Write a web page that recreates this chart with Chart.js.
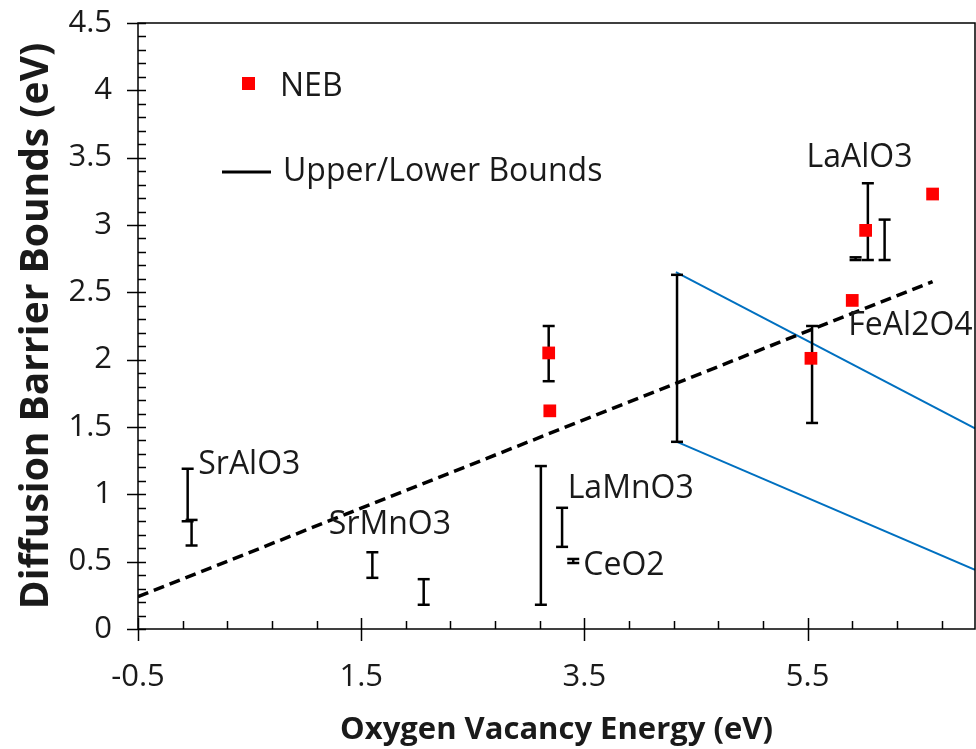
<!DOCTYPE html>
<html>
<head>
<meta charset="utf-8">
<script src="https://cdn.jsdelivr.net/npm/chart.js@4.4.0/dist/chart.umd.min.js"></script>
<style>
  html, body { margin: 0; padding: 0; background: #fff; }
  #wrap { width: 976px; height: 749px; }
</style>
</head>
<body>
<div id="wrap"><canvas id="grafico" width="976" height="749"></canvas></div>
<script>
// NEB points
const nebX = [3.18, 3.19, 5.53, 5.90, 6.02, 6.62];
const nebY = [2.05, 1.62, 2.01, 2.44, 2.96, 3.23];

// upper / lower bound bars
const boundX = [-0.055, -0.02, 1.60, 2.06, 3.11, 3.18, 3.30, 3.40, 4.33, 5.54, 5.93, 6.04, 6.19];
const boundLow = [0.80, 0.62, 0.38, 0.18, 0.18, 1.84, 0.61, 0.49, 1.39, 1.53, 2.74, 2.74, 2.74];
const boundHigh = [1.19, 0.81, 0.57, 0.37, 1.21, 2.25, 0.90, 0.52, 2.63, 2.25, 2.76, 3.31, 3.04];

// dashed trend line
const trendX = [-0.5, 6.62];
const trendY = [0.24, 2.58];

// blue guide lines
const guideUpperX = [4.32, 7.0];
const guideUpperY = [2.65, 1.49];
const guideLowerX = [4.33, 7.0];
const guideLowerY = [1.39, 0.44];

// material labels
const labelNames = ["SrAlO3", "SrMnO3", "LaMnO3", "CeO2", "FeAl2O4", "LaAlO3"];
const labelX = [0.04, 1.21, 3.35, 3.49, 5.865, 5.49];
const labelY = [1.22, 0.77, 1.04, 0.47, 2.25, 3.50];

// axes
const xTicks = [-0.5, 1.5, 3.5, 5.5];
const xTickLabels = ["-0.5", "1.5", "3.5", "5.5"];
const yTickLabels = ["0", "0.5", "1", "1.5", "2", "2.5", "3", "3.5", "4", "4.5"];

const FONT = "'Open Sans', 'Liberation Sans', sans-serif";
const TEXT = "#1a1a1a";

const pares = (xs, ys) => xs.map((x, i) => ({ x: x, y: ys[i] }));

const datasets = [
  {
    label: "NEB",
    data: pares(nebX, nebY),
    showLine: false,
    pointStyle: "rect",
    pointRadius: 9,
    pointBackgroundColor: "#ff0000",
    pointBorderColor: "#ff0000",
    pointBorderWidth: 0,
  },
];

boundX.forEach((x, i) => {
  datasets.push({
    label: "Upper/Lower Bounds",
    data: [{ x: x, y: boundLow[i] }, { x: x, y: boundHigh[i] }],
    showLine: true,
    borderColor: "#000",
    borderWidth: 2.5,
    pointStyle: "line",
    pointRadius: 6,
    pointBorderColor: "#000",
    pointBorderWidth: 2.5,
  });
});

datasets.push({
  label: "trend",
  data: pares(trendX, trendY),
  showLine: true,
  borderColor: "#000",
  borderWidth: 3.5,
  borderDash: [11, 6],
  pointRadius: 0,
});
datasets.push({
  label: "guideUpper",
  data: pares(guideUpperX, guideUpperY),
  showLine: true,
  borderColor: "#0070c0",
  borderWidth: 2,
  pointRadius: 0,
});
datasets.push({
  label: "guideLower",
  data: pares(guideLowerX, guideLowerY),
  showLine: true,
  borderColor: "#0070c0",
  borderWidth: 2,
  pointRadius: 0,
});

// draws the frame, tick marks, labels and legend
const decoracao = {
  id: "decoracao",
  afterDraw(chart) {
    const ctx = chart.ctx;
    const a = chart.chartArea;
    const sx = chart.scales.x;
    const sy = chart.scales.y;
    ctx.save();

    // frame
    ctx.strokeStyle = "#000";
    ctx.lineWidth = 1.5;
    ctx.strokeRect(a.left, a.top, a.right - a.left, a.bottom - a.top);

    // x minor / major ticks
    ctx.beginPath();
    for (let k = 0; k <= 18; k++) {
      const v = -0.5 + k * 0.4;
      if (v > 7.0001) break;
      const px = Math.round(sx.getPixelForValue(v)) + 0.5;
      ctx.moveTo(px, a.bottom - 8);
      ctx.lineTo(px, a.bottom);
    }
    xTicks.forEach((v) => {
      const px = Math.round(sx.getPixelForValue(v)) + 0.5;
      ctx.moveTo(px, a.bottom - 11);
      ctx.lineTo(px, a.bottom + 12);
    });
    // y minor / major ticks
    for (let k = 0; k <= 45; k++) {
      const py = Math.round(sy.getPixelForValue(k / 10)) + 0.5;
      ctx.moveTo(a.left, py);
      ctx.lineTo(a.left + 8, py);
    }
    for (let k = 0; k <= 9; k++) {
      const py = Math.round(sy.getPixelForValue(k / 2)) + 0.5;
      ctx.moveTo(a.left - 11, py);
      ctx.lineTo(a.left, py);
    }
    ctx.stroke();

    // material labels
    ctx.fillStyle = TEXT;
    ctx.font = "32px " + FONT;
    ctx.textAlign = "left";
    ctx.textBaseline = "middle";
    labelNames.forEach((nome, i) => {
      ctx.fillText(nome, sx.getPixelForValue(labelX[i]), sy.getPixelForValue(labelY[i]));
    });

    // legend
    ctx.fillStyle = "#ff0000";
    ctx.fillRect(242, 77, 13, 13);
    ctx.fillStyle = TEXT;
    ctx.fillText("NEB", 280, 87);
    ctx.strokeStyle = "#000";
    ctx.lineWidth = 3;
    ctx.beginPath();
    ctx.moveTo(222, 172);
    ctx.lineTo(271, 172);
    ctx.stroke();
    ctx.fillText("Upper/Lower Bounds", 283, 172);

    ctx.restore();
  },
};

new Chart(document.getElementById("grafico").getContext("2d"), {
  type: "scatter",
  data: { datasets: datasets },
  options: {
    responsive: false,
    animation: false,
    layout: { autoPadding: false, padding: { top: 23, right: 1, left: 0, bottom: 0 } },
    plugins: {
      legend: { display: false },
      tooltip: { enabled: false },
    },
    scales: {
      x: {
        type: "linear",
        min: -0.5,
        max: 7.0,
        afterBuildTicks: (s) => {
          s.ticks = xTicks.map((v) => ({ value: v }));
        },
        afterFit: (s) => {
          s.height = 120;
          s.paddingLeft = 0;
          s.paddingRight = 0;
        },
        grid: { display: false, drawTicks: false },
        border: { display: false },
        ticks: {
          padding: 30,
          color: TEXT,
          font: { family: FONT, size: 31 },
          maxRotation: 0,
          autoSkip: false,
          callback: (v) => xTickLabels[xTicks.indexOf(v)],
        },
        title: {
          display: true,
          text: "Oxygen Vacancy Energy (eV)",
          color: TEXT,
          font: { family: FONT, size: 31, weight: "bold" },
          padding: { top: 0, bottom: 0 },
        },
      },
      y: {
        type: "linear",
        min: 0,
        max: 4.5,
        afterFit: (s) => {
          s.width = 138;
          s.paddingTop = 0;
          s.paddingBottom = 0;
        },
        grid: { display: false, drawTicks: false },
        border: { display: false },
        ticks: {
          stepSize: 0.5,
          padding: 26,
          color: TEXT,
          font: { family: FONT, size: 31 },
          callback: (v, i) => yTickLabels[i],
        },
        title: {
          display: true,
          text: "Diffusion Barrier Bounds (eV)",
          color: TEXT,
          font: { family: FONT, size: 39, weight: "bold" },
          padding: { top: 13, bottom: 0 },
        },
      },
    },
  },
  plugins: [decoracao],
});
</script>
</body>
</html>
